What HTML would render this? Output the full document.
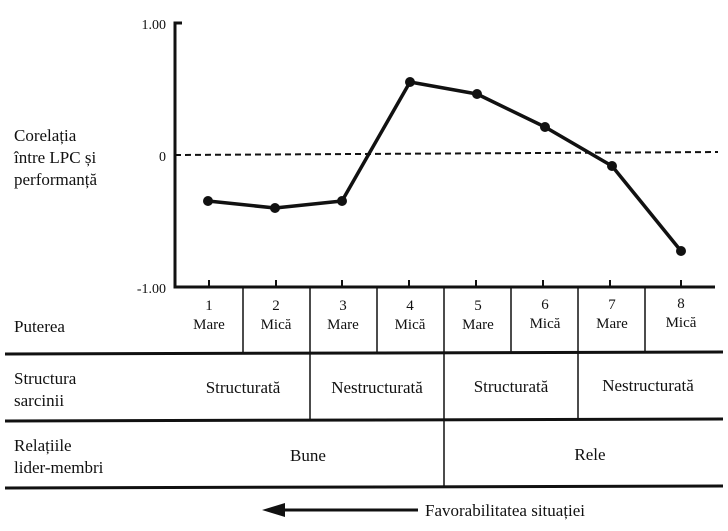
<!DOCTYPE html>
<html><head><style>
body{margin:0;background:#fff;}
svg{display:block;font-family:"Liberation Serif",serif;}
</style></head><body>
<svg width="728" height="531" viewBox="0 0 728 531">
<g fill="#111">
<text x="166" y="29" font-size="14" text-anchor="end">1.00</text>
<text x="166" y="161" font-size="14" text-anchor="end">0</text>
<text x="166" y="293" font-size="14" text-anchor="end">-1.00</text>
<text x="14" y="141" font-size="17">Corelația</text>
<text x="14" y="163" font-size="17">între LPC și</text>
<text x="14" y="185" font-size="17">performanță</text>
</g>
<g stroke="#111" stroke-width="3" fill="none">
<path d="M182 23 H175 V287 H715"/>
</g>
<line x1="175" y1="155" x2="718" y2="152" stroke="#111" stroke-width="2" stroke-dasharray="6,4"/>
<g stroke="#111" stroke-width="2">
<line x1="209" y1="280" x2="209" y2="287"/><line x1="276" y1="280" x2="276" y2="287"/>
<line x1="342" y1="280" x2="342" y2="287"/><line x1="409" y1="280" x2="409" y2="287"/>
<line x1="476" y1="280" x2="476" y2="287"/><line x1="543" y1="280" x2="543" y2="287"/>
<line x1="610" y1="280" x2="610" y2="287"/><line x1="681" y1="280" x2="681" y2="287"/>
</g>
<polyline points="208,201 275,208 342,201 410,82 477,94 545,127 612,166 681,251" fill="none" stroke="#111" stroke-width="3.5" stroke-linejoin="round"/>
<g fill="#111">
<circle cx="208" cy="201" r="5"/><circle cx="275" cy="208" r="5"/><circle cx="342" cy="201" r="5"/><circle cx="410" cy="82" r="5"/><circle cx="477" cy="94" r="5"/><circle cx="545" cy="127" r="5"/><circle cx="612" cy="166" r="5"/><circle cx="681" cy="251" r="5"/>
</g>
<g stroke="#111" stroke-width="1.5">
<line x1="243" y1="287" x2="243" y2="354"/><line x1="310" y1="287" x2="310" y2="354"/>
<line x1="377" y1="287" x2="377" y2="354"/><line x1="511" y1="287" x2="511" y2="353"/>
<line x1="578" y1="287" x2="578" y2="353"/><line x1="645" y1="287" x2="645" y2="353"/>
<line x1="444" y1="287" x2="444" y2="487"/>
<line x1="310" y1="354" x2="310" y2="420"/><line x1="578" y1="353" x2="578" y2="420"/>
</g>
<g stroke="#111" stroke-width="3">
<line x1="5" y1="354" x2="723" y2="352"/>
<line x1="5" y1="421" x2="723" y2="419"/>
<line x1="5" y1="488" x2="723" y2="486"/>
</g>
<g fill="#111" font-size="15" text-anchor="middle">
<text x="209" y="310">1</text><text x="209" y="329">Mare</text>
<text x="276" y="310">2</text><text x="276" y="329">Mică</text>
<text x="343" y="310">3</text><text x="343" y="329">Mare</text>
<text x="410" y="310">4</text><text x="410" y="329">Mică</text>
<text x="478" y="310">5</text><text x="478" y="329">Mare</text>
<text x="545" y="309">6</text><text x="545" y="328">Mică</text>
<text x="612" y="309">7</text><text x="612" y="328">Mare</text>
<text x="681" y="308">8</text><text x="681" y="327">Mică</text>
</g>
<g fill="#111" font-size="17">
<text x="14" y="332">Puterea</text>
<text x="14" y="384">Structura</text>
<text x="14" y="406">sarcinii</text>
<text x="14" y="451">Relațiile</text>
<text x="14" y="473">lider-membri</text>
<g text-anchor="middle">
<text x="243" y="393">Structurată</text>
<text x="377" y="393">Nestructurată</text>
<text x="511" y="392">Structurată</text>
<text x="648" y="391">Nestructurată</text>
<text x="308" y="461">Bune</text>
<text x="590" y="460">Rele</text>
</g>
<text x="425" y="516">Favorabilitatea situației</text>
</g>
<line x1="280" y1="510" x2="418" y2="510" stroke="#111" stroke-width="3"/>
<polygon points="262,510 285,503 285,517" fill="#111"/>
</svg>
</body></html>
